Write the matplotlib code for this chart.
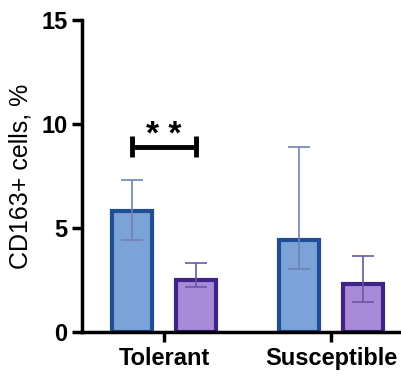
import matplotlib
matplotlib.use("Agg")
import matplotlib.pyplot as plt
import numpy as np

groups = ["Tolerant", "Susceptible"]
blue_vals = [5.82, 4.42]
blue_lo = [4.42, 3.04]
blue_hi = [7.33, 8.9]
purple_vals = [2.5, 2.31]
purple_lo = [2.18, 1.46]
purple_hi = [3.33, 3.65]
yticks = [0, 5, 10, 15]

plt.rcParams['font.family'] = ['Liberation Sans', 'DejaVu Sans']

fig = plt.figure(figsize=(4.01, 3.77), dpi=100)
ax = fig.add_axes([0.2045, 0.1194, 0.7955, 0.8276])

x = np.arange(len(groups))
off = 0.19
w = 0.24

ax.bar(x - off, blue_vals, w, color='#7BA3D8', edgecolor='#1F4E96', linewidth=3, zorder=2)
ax.bar(x + off, purple_vals, w, color='#A88BD8', edgecolor='#3E2487', linewidth=3, zorder=2)

bv = np.array(blue_vals)
pv = np.array(purple_vals)
ax.errorbar(x - off, bv, yerr=[bv - np.array(blue_lo), np.array(blue_hi) - bv],
            fmt='none', ecolor='#6F82B5', elinewidth=1.2, capsize=8, capthick=1.2, zorder=3)
ax.errorbar(x + off, pv, yerr=[pv - np.array(purple_lo), np.array(purple_hi) - pv],
            fmt='none', ecolor='#6A55A5', elinewidth=1.2, capsize=8, capthick=1.2, zorder=3)

# significance bracket
ax.plot([x[0] - off, x[0] + off], [8.9, 8.9], color='black', lw=3.5, solid_capstyle='butt')
ax.plot([x[0] - off, x[0] - off], [8.4, 9.4], color='black', lw=3.5, solid_capstyle='butt')
ax.plot([x[0] + off, x[0] + off], [8.4, 9.4], color='black', lw=3.5, solid_capstyle='butt')
ax.text(x[0], 8.7, "* *", ha='center', va='bottom', fontsize=24, fontweight='bold')

ax.set_xlim(-0.491, 1.419)
ax.set_ylim(0, 15)
ax.set_yticks(yticks)
ax.set_xticks(x)
ax.set_xticklabels(groups)
for lab in ax.get_xticklabels() + ax.get_yticklabels():
    lab.set_fontweight('bold')
    lab.set_fontsize(17)
ax.set_ylabel("CD163+ cells, %", fontsize=18, labelpad=6)

for s in ['top', 'right']:
    ax.spines[s].set_visible(False)
for s in ['left', 'bottom']:
    ax.spines[s].set_linewidth(2.5)
ax.tick_params(width=2.5, length=7)

fig.savefig("out.png", dpi=100)
